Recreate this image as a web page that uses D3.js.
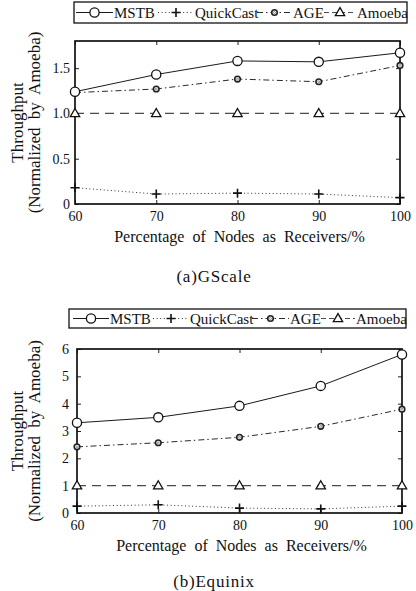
<!DOCTYPE html>
<html>
<head>
<meta charset="utf-8">
<script src="https://cdn.jsdelivr.net/npm/d3@7"></script>
<style>
body{margin:0;background:#fff}
</style>
</head>
<body>
<div id="chart"></div>
<script>
// data
var xValues=[60,70,80,90,100]
var seriesNames=["MSTB","QuickCast","AGE","Amoeba"]

var gscaleMSTB=[1.24,1.43,1.58,1.57,1.67]
var gscaleQuickCast=[0.18,0.11,0.12,0.11,0.07]
var gscaleAGE=[1.23,1.27,1.38,1.35,1.53]
var gscaleAmoeba=[1,1,1,1,1]
var gscaleYTicks=[0,0.5,1.0,1.5]
var gscaleYLabels=["0","0.5","1.0","1.5"]

var equinixMSTB=[3.3,3.5,3.92,4.65,5.8]
var equinixQuickCast=[0.25,0.3,0.18,0.15,0.25]
var equinixAGE=[2.42,2.57,2.77,3.17,3.8]
var equinixAmoeba=[1,1,1,1,1]
var equinixYTicks=[0,1,2,3,4,5,6]
var equinixYLabels=["0","1","2","3","4","5","6"]

var svgWidth=416
var svgHeight=591
var serif='"Liberation Serif"'

var svg=d3.select("#chart")
    .append("svg")
    .attr("width", svgWidth)
    .attr("height", svgHeight)

var styles={
    MSTB:{dash:null, color:"#1a1a1a"},
    QuickCast:{dash:"1,2.6", color:"#333"},
    AGE:{dash:"6,3,1.5,3", color:"#2a2a2a"},
    Amoeba:{dash:"9,6", color:"#4a4a4a"}
}

function label(g, size){
    return g.append("text").style("font-family",serif).style("font-size",size+"px").attr("fill","#111")
}

function drawMarker(g, name, x, y){
    if(name=="MSTB"){
        g.append("circle").attr("cx",x).attr("cy",y).attr("r",4.6)
            .attr("fill","#fff").attr("stroke","#111").attr("stroke-width",1.3)
    } else if(name=="QuickCast"){
        g.append("path").attr("d",`M${x-4.5},${y}H${x+4.5}M${x},${y-4.5}V${y+4.5}`)
            .attr("stroke","#111").attr("stroke-width",1.6)
    } else if(name=="AGE"){
        g.append("circle").attr("cx",x).attr("cy",y).attr("r",2.8)
            .attr("fill","#fff").attr("stroke","#222").attr("stroke-width",1.6)
        g.append("circle").attr("cx",x).attr("cy",y).attr("r",1)
            .attr("fill","#fff").attr("stroke","#555").attr("stroke-width",0.6)
    } else {
        g.append("path").attr("transform",`translate(${x},${y+0.5})`)
            .attr("d",d3.symbol(d3.symbolTriangle,38)())
            .attr("fill","#fff").attr("stroke","#111").attr("stroke-width",1.3)
    }
}

function drawPanel(p){
    var x=d3.scaleLinear().domain([60,100]).range([p.left,p.right])
    var y=d3.scaleLinear().domain([0,p.ymax]).range([p.bottom,p.top])

    // ticks point inward, labels only on left and bottom
    var bottomAxis=d3.axisBottom(x).tickValues(xValues).tickSizeInner(-4).tickSizeOuter(0).tickPadding(7)
    var topAxis=d3.axisTop(x).tickValues(xValues).tickSizeInner(-4).tickSizeOuter(0).tickFormat("")
    var leftAxis=d3.axisLeft(y).tickValues(p.yTicks).tickSizeInner(-4).tickSizeOuter(0)
        .tickPadding(p.yPad).tickFormat((d,i)=>p.yLabels[i])
    var rightAxis=d3.axisRight(y).tickValues(p.yTicks).tickSizeInner(-4).tickSizeOuter(0).tickFormat("")

    var axes=[
        svg.append("g").attr("transform",`translate(0,${p.bottom})`).call(bottomAxis),
        svg.append("g").attr("transform",`translate(0,${p.top})`).call(topAxis),
        svg.append("g").attr("transform",`translate(${p.left},0)`).call(leftAxis),
        svg.append("g").attr("transform",`translate(${p.right},0)`).call(rightAxis)
    ]
    axes.forEach(a=>{
        a.attr("font-family",null).attr("font-size",null)
        a.select(".domain").remove()
        a.selectAll("line").attr("stroke","#222").attr("stroke-width",1)
        a.selectAll("text").style("font-family",serif).style("font-size","14px").attr("fill","#111")
    })

    var data={MSTB:p.MSTB, QuickCast:p.QuickCast, AGE:p.AGE, Amoeba:p.Amoeba}
    var line=d3.line().x((d,i)=>x(xValues[i])).y(d=>y(d))

    var order=["Amoeba","QuickCast","AGE","MSTB"]
    order.forEach(name=>{
        svg.append("path").attr("d",line(data[name]))
            .attr("fill","none").attr("stroke",styles[name].color)
            .attr("stroke-width",name=="Amoeba"?1.3:1)
            .attr("stroke-dasharray",styles[name].dash)
    })

    svg.append("rect").attr("x",p.left).attr("y",p.top)
        .attr("width",p.right-p.left).attr("height",p.bottom-p.top)
        .attr("fill","none").attr("stroke","#111").attr("stroke-width",1.7)

    var mg=svg.append("g")
    order.forEach(name=>{
        data[name].forEach((v,i)=>drawMarker(mg,name,x(xValues[i]),y(v)))
    })

    // y title, two lines
    var cy=(p.top+p.bottom)/2
    label(svg,17).attr("transform",`translate(23,${cy}) rotate(-90)`)
        .attr("text-anchor","middle").text("Throughput")
    label(svg,17).attr("transform",`translate(40,${cy}) rotate(-90)`)
        .attr("text-anchor","middle").attr("word-spacing",4)
        .text("(Normalized by Amoeba)")

    label(svg,16).attr("x",(p.left+p.right)/2+2).attr("y",p.bottom+38)
        .attr("text-anchor","middle").attr("word-spacing",4)
        .text("Percentage of Nodes as Receivers/%")

    label(svg,17).attr("x",214).attr("y",p.caption)
        .attr("text-anchor","middle").attr("letter-spacing",0.8)
        .text(p.title)

    // legend
    var lg=svg.append("g")
    lg.append("rect").attr("x",p.legend[0]).attr("y",p.legend[1])
        .attr("width",p.legend[2]-p.legend[0]).attr("height",p.legend[3]-p.legend[1])
        .attr("fill","#fff").attr("stroke","#111").attr("stroke-width",1.3)
    var ly=(p.legend[1]+p.legend[3])/2
    seriesNames.forEach((name,i)=>{
        var it=p.items[i]
        lg.append("line").attr("x1",it[0]).attr("x2",it[1]).attr("y1",ly).attr("y2",ly)
            .attr("stroke",styles[name].color).attr("stroke-width",1.2)
            .attr("stroke-dasharray",styles[name].dash=="9,6"?"5,3":styles[name].dash)
        drawMarker(lg,name,(it[0]+it[1])/2,ly)
        label(lg,15).attr("x",it[1]+1).attr("y",ly+5).text(name)
    })
}

drawPanel({
    left:75, right:400, top:41, bottom:204, ymax:1.8,
    yTicks:gscaleYTicks, yLabels:gscaleYLabels, yPad:5,
    MSTB:gscaleMSTB, QuickCast:gscaleQuickCast, AGE:gscaleAGE, Amoeba:gscaleAmoeba,
    caption:282, title:"(a)GScale",
    legend:[74,2,407,23],
    items:[[76,113],[158,194],[257,292],[324,356]]
})

drawPanel({
    left:77, right:402, top:349, bottom:513, ymax:6,
    yTicks:equinixYTicks, yLabels:equinixYLabels, yPad:8,
    MSTB:equinixMSTB, QuickCast:equinixQuickCast, AGE:equinixAGE, Amoeba:equinixAmoeba,
    caption:587, title:"(b)Equinix",
    legend:[69,309,406,328],
    items:[[73,109],[153,189],[252,289],[321,355]]
})
</script>
</body>
</html>
